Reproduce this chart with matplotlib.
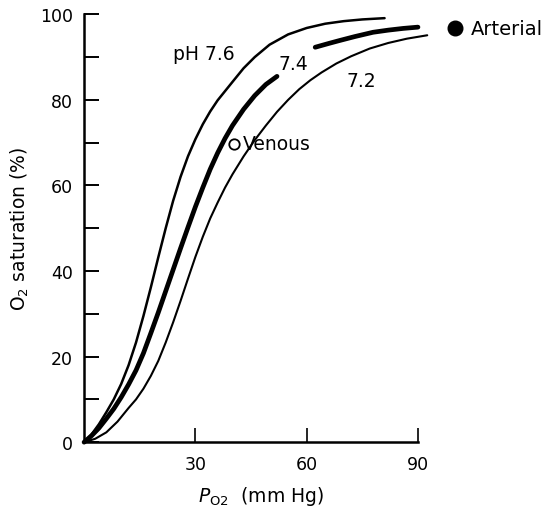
import matplotlib
matplotlib.use("Agg")
import matplotlib.pyplot as plt

plt.rcParams["font.family"] = ["DejaVu Sans"]
plt.rcParams["mathtext.fontset"] = "dejavusans"

# O2 dissociation curves (PO2 in mm Hg, saturation in %)
po2_76 = [0, 2, 4, 6, 8, 10, 12, 14, 16, 18, 20, 22, 24, 26, 28, 30, 32, 34,
          36, 40, 43, 46, 50, 55, 60, 65, 70, 75, 81]
sat_76 = [0, 1.8, 4.2, 7.0, 10.0, 13.6, 18.0, 23.3, 29.5, 36.2, 43.2, 50.0,
          56.4, 62.0, 66.8, 70.8, 74.3, 77.3, 79.9, 84.2, 87.4, 90.0, 92.9,
          95.3, 96.8, 97.8, 98.4, 98.8, 99.1]

po2_74a = [0, 2, 4, 6, 8, 10, 12, 14, 16, 18, 20, 22, 24, 26, 28, 30, 32, 34,
           36, 38, 40, 43, 46, 49, 52]
sat_74a = [0, 1.5, 3.3, 5.5, 7.8, 10.5, 13.5, 16.8, 20.8, 25.5, 30.3, 35.3,
           40.3, 45.3, 50.2, 55.0, 59.5, 63.8, 67.6, 71.0, 74.0, 77.8, 81.0,
           83.6, 85.5]
po2_74b = [62.3, 66, 69, 73, 77.9, 82, 86, 90]
sat_74b = [92.3, 93.2, 93.9, 94.8, 95.8, 96.3, 96.7, 97.0]

po2_72 = [0, 3, 6, 9, 12, 14, 16, 18, 20, 22, 24, 26, 28, 30, 32, 34, 36, 38,
          40, 43, 46, 49, 52, 55, 58, 61, 64, 68, 72, 77, 82, 87, 92.5]
sat_72 = [0, 0.8, 2.3, 4.8, 8.0, 10.0, 12.5, 15.5, 19.0, 23.3, 28.0, 33.0,
          38.2, 43.3, 48.0, 52.3, 56.0, 59.5, 62.6, 66.8, 70.6, 74.0, 77.2,
          80.0, 82.5, 84.6, 86.4, 88.5, 90.2, 92.0, 93.3, 94.3, 95.1]

venous = (40.4, 69.6)
arterial = (100.1, 96.8)

fig = plt.figure(figsize=(5.46, 5.10), dpi=100)
ax = fig.add_axes([0.154, 0.131, 0.8425, 0.839])

ax.plot(po2_76, sat_76, color="black", lw=1.8, clip_on=False,
        solid_capstyle="round", solid_joinstyle="round")
ax.plot(po2_74a, sat_74a, color="black", lw=3.4, clip_on=False,
        solid_capstyle="round", solid_joinstyle="round")
ax.plot(po2_74b, sat_74b, color="black", lw=3.4, clip_on=False,
        solid_capstyle="round", solid_joinstyle="round")
ax.plot(po2_72, sat_72, color="black", lw=1.5, clip_on=False,
        solid_capstyle="round", solid_joinstyle="round")

ax.plot(*venous, "o", mfc="white", mec="black", ms=7.5, mew=1.3, clip_on=False)
ax.plot(*arterial, "o", color="black", ms=10.5, clip_on=False)

fs = 13.5
ax.text(24.0, 89.5, "pH 7.6", fontsize=fs, va="baseline", ha="left")
ax.text(56.5, 87.1, "7.4", fontsize=fs, va="baseline", ha="center")
ax.text(74.8, 83.2, "7.2", fontsize=fs, va="baseline", ha="center")
ax.text(42.9, 68.5, "Venous", fontsize=fs, va="baseline", ha="left")
ax.text(104.3, 95.3, "Arterial", fontsize=14, va="baseline", ha="left")

ax.set_xlim(0, 124)
ax.set_ylim(0, 100)
for side in ("top", "right"):
    ax.spines[side].set_visible(False)
ax.spines["left"].set_linewidth(1.8)
ax.spines["bottom"].set_linewidth(1.8)
ax.spines["bottom"].set_bounds(0, 90)
ax.spines["left"].set_bounds(0, 100)

ax.set_xticks([30, 60, 90])
ax.set_yticks([0, 20, 40, 60, 80, 100])
ax.set_yticks([10, 30, 50, 70, 90], minor=True)
ax.tick_params(axis="y", which="both", direction="in", length=11, width=1.4,
               labelsize=12.5, pad=8)
ax.tick_params(axis="x", direction="in", length=10, width=1.2,
               labelsize=12.5, pad=9)

ax.set_ylabel("O$_2$ saturation (%)", fontsize=13.5)
ax.set_xlabel("$P_{\\mathrm{O2}}$  (mm Hg)", fontsize=13.5)
ax.yaxis.set_label_coords(-0.115, 0.5)
ax.xaxis.set_label_coords(47.7 / 124, -0.098)

fig.savefig("out.png", dpi=100)
